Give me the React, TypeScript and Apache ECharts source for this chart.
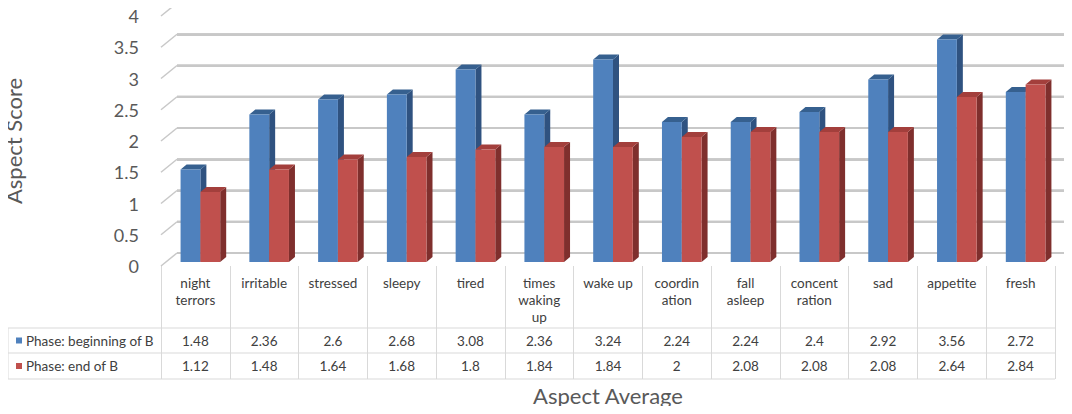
import React, { useEffect, useRef } from "react";
import * as echarts from "echarts";

const categories = [
  "night\nterrors",
  "irritable",
  "stressed",
  "sleepy",
  "tired",
  "times\nwaking\nup",
  "wake up",
  "coordin\nation",
  "fall\nasleep",
  "concent\nration",
  "sad",
  "appetite",
  "fresh",
];
const seriesNames = ["Phase: beginning of B", "Phase: end of B"];
const beginningOfB = [1.48, 2.36, 2.6, 2.68, 3.08, 2.36, 3.24, 2.24, 2.24, 2.4, 2.92, 3.56, 2.72];
const endOfB = [1.12, 1.48, 1.64, 1.68, 1.8, 1.84, 1.84, 2, 2.08, 2.08, 2.08, 2.64, 2.84];
const yTicks = [0, 0.5, 1, 1.5, 2, 2.5, 3, 3.5, 4];

const FONT = "Lato, 'Open Sans', sans-serif";
const GRID_COLOR = "#d9d9d9";
const WALL_COLOR = "#c8c8c8";
const TEXT = "#404040";
const AXIS_TEXT = "#595959";

const COLORS = [
  { front: "#4f81bd", top: "#36608f", side: "#2f5280" },
  { front: "#c0504d", top: "#a33f3c", side: "#7f2f2d" },
];

// layout (pixels)
const FRONT = { left: 161, right: 17, top: 16, bottom: 148 };
const WALL_DX = 16;
const WALL_DY = -13;
const BACK = {
  left: FRONT.left + WALL_DX,
  right: FRONT.right - WALL_DX + 1,
  top: FRONT.top + WALL_DY,
  bottom: FRONT.bottom - WALL_DY,
};
const BAR_SHIFT_X = 5;
const BAR_SHIFT_Y = -4;
const DEPTH_X = 6;
const DEPTH_Y = -5;
const BAR_FRAC = 0.288;

function makeBarSeries(idx: number, values: number[]) {
  const c = COLORS[idx];
  return {
    type: "custom",
    name: seriesNames[idx],
    xAxisIndex: 0,
    yAxisIndex: 0,
    clip: false,
    z: 10 + idx,
    data: values.map((v, i) => [i, v]),
    renderItem: (params: any, api: any) => {
      const ci = api.value(0);
      const v = api.value(1);
      const top = api.coord([ci, v]);
      const base = api.coord([ci, 0]);
      const band = api.size([1, 0])[0];
      const bw = band * BAR_FRAC;
      const cx = top[0] + BAR_SHIFT_X;
      const x0 = idx === 0 ? cx - bw : cx;
      const x1 = x0 + bw;
      const yT = top[1] + BAR_SHIFT_Y;
      const yB = base[1] + BAR_SHIFT_Y;
      return {
        type: "group",
        children: [
          {
            type: "polygon",
            shape: { points: [[x1, yT], [x1 + DEPTH_X, yT + DEPTH_Y], [x1 + DEPTH_X, yB + DEPTH_Y], [x1, yB]] },
            style: { fill: c.side },
          },
          {
            type: "polygon",
            shape: { points: [[x0, yT], [x1, yT], [x1 + DEPTH_X, yT + DEPTH_Y], [x0 + DEPTH_X, yT + DEPTH_Y]] },
            style: { fill: c.top },
          },
          {
            type: "rect",
            shape: { x: x0, y: yT, width: bw, height: yB - yT },
            style: { fill: c.front },
          },
        ],
      };
    },
  };
}

export default function App() {
  const ref = useRef<HTMLDivElement>(null);

  useEffect(() => {
    if (!ref.current) return;
    const chart = echarts.init(ref.current, undefined, { renderer: "svg" });

    const rowLines = [328, 353, 379];
    const tableLeft = 8;
    const tableRight = 1072 - FRONT.right;

    const graphics: any[] = [];
    rowLines.forEach((y) => {
      graphics.push({
        type: "line",
        shape: { x1: tableLeft, y1: y, x2: tableRight, y2: y },
        style: { stroke: GRID_COLOR, lineWidth: 1 },
        silent: true,
      });
    });
    graphics.push({
      type: "line",
      shape: { x1: tableLeft, y1: rowLines[0], x2: tableLeft, y2: rowLines[2] },
      style: { stroke: GRID_COLOR, lineWidth: 1 },
      silent: true,
    });
    seriesNames.forEach((name, i) => {
      const cy = (rowLines[i] + rowLines[i + 1]) / 2;
      graphics.push({
        type: "rect",
        shape: { x: 16, y: cy - 3, width: 6, height: 6 },
        style: { fill: COLORS[i].front },
        silent: true,
      });
      graphics.push({
        type: "text",
        x: 26,
        y: cy,
        style: {
          text: name,
          fill: TEXT,
          font: `13.5px ${FONT}`,
          verticalAlign: "middle",
        },
        silent: true,
      });
    });

    const valueAxis = (offset: number, values: number[]) => ({
      type: "category",
      gridIndex: 0,
      data: categories,
      position: "bottom",
      offset,
      axisLine: { show: false },
      axisTick: { show: false },
      axisLabel: {
        interval: 0,
        margin: 0,
        fontSize: 13.5,
        lineHeight: 17,
        color: TEXT,
        fontFamily: FONT,
        formatter: (_v: string, i: number) => String(values[i]),
      },
    });

    chart.setOption({
      animation: false,
      backgroundColor: "#ffffff",
      grid: [
        { ...FRONT, containLabel: false, outerBoundsMode: "none" },
        { ...BACK, containLabel: false, outerBoundsMode: "none" },
      ],
      xAxis: [
        {
          type: "category",
          gridIndex: 0,
          data: categories,
          position: "bottom",
          name: "Aspect Average",
          nameLocation: "middle",
          nameGap: 129,
          nameTextStyle: { fontSize: 22, color: AXIS_TEXT, fontFamily: FONT, verticalAlign: "middle" },
          axisLine: { show: false },
          axisTick: {
            show: true,
            interval: 0,
            length: 113,
            lineStyle: { color: GRID_COLOR, width: 1 },
          },
          axisLabel: {
            interval: 0,
            margin: 8,
            fontSize: 13.5,
            lineHeight: 17,
            color: TEXT,
            fontFamily: FONT,
          },
        },
        valueAxis(66, beginningOfB),
        valueAxis(91, endOfB),
        {
          type: "category",
          gridIndex: 1,
          data: categories,
          axisLine: { show: false },
          axisTick: { show: false },
          axisLabel: { show: false },
          splitLine: { show: false },
        },
      ],
      yAxis: [
        {
          type: "value",
          gridIndex: 0,
          min: 0,
          max: 4,
          interval: 0.5,
          name: "Aspect Score",
          nameLocation: "middle",
          nameRotate: 90,
          nameGap: 137,
          nameTextStyle: { fontSize: 22, color: AXIS_TEXT, fontFamily: FONT },
          axisLine: { show: false },
          axisTick: { show: false },
          splitLine: { show: false },
          axisLabel: { fontSize: 18, color: AXIS_TEXT, fontFamily: FONT, margin: 22 },
        },
        {
          type: "value",
          gridIndex: 1,
          min: 0,
          max: 4,
          interval: 0.5,
          axisLine: { show: false },
          axisTick: { show: false },
          axisLabel: { show: false },
          splitLine: { show: true, lineStyle: { color: WALL_COLOR, width: 2 } },
        },
      ],
      series: [
        {
          type: "custom",
          name: "side wall",
          xAxisIndex: 0,
          yAxisIndex: 0,
          clip: false,
          silent: true,
          z: 1,
          data: yTicks.map((t) => [0, t]),
          renderItem: (params: any, api: any) => {
            const p = api.coord([0, api.value(1)]);
            const band = api.size([1, 0])[0];
            const xl = p[0] - band / 2;
            return {
              type: "line",
              shape: { x1: xl, y1: p[1], x2: xl + WALL_DX, y2: p[1] + WALL_DY },
              style: { stroke: WALL_COLOR, lineWidth: 1.5 },
            };
          },
        },
        {
          type: "custom",
          name: "back wall",
          xAxisIndex: 0,
          yAxisIndex: 0,
          clip: false,
          silent: true,
          z: 1,
          data: yTicks.map((t) => [0, t]),
          renderItem: (params: any, api: any) => {
            const p = api.coord([0, api.value(1)]);
            const band = api.size([1, 0])[0];
            const y = p[1] + WALL_DY;
            const xStart = p[0] - band / 2 + WALL_DX;
            const xEnd = xStart + band * categories.length - 1;
            return {
              type: "polyline",
              shape: { points: [[xStart, y], [(xStart + xEnd) / 2, y + 0.01], [xEnd, y]] },
              style: { stroke: WALL_COLOR, lineWidth: 2, fill: null },
            };
          },
        },
        {
          type: "scatter",
          name: "back wall anchor",
          xAxisIndex: 3,
          yAxisIndex: 1,
          silent: true,
          symbolSize: 0,
          itemStyle: { opacity: 0 },
          data: yTicks.map((t) => [0, t]),
        },
        makeBarSeries(0, beginningOfB),
        makeBarSeries(1, endOfB),
      ],
      graphic: graphics,
    });

    const back: any[] = yTicks.map((t) => {
      const y = chart.convertToPixel({ yAxisIndex: 0 }, t) + WALL_DY;
      const xl = FRONT.left + WALL_DX;
      const xr = 1072 - FRONT.right + WALL_DX - 1;
      return {
        type: "line",
        z: 1,
        shape: { x1: xl, y1: y, x2: xr, y2: y },
        style: { stroke: WALL_COLOR, lineWidth: 2 },
        silent: true,
      };
    });
    chart.setOption({ graphic: [...graphics, ...back] });

    return () => chart.dispose();
  }, []);

  return <div ref={ref} style={{ width: 1072, height: 414, margin: -8 }} />;
}
